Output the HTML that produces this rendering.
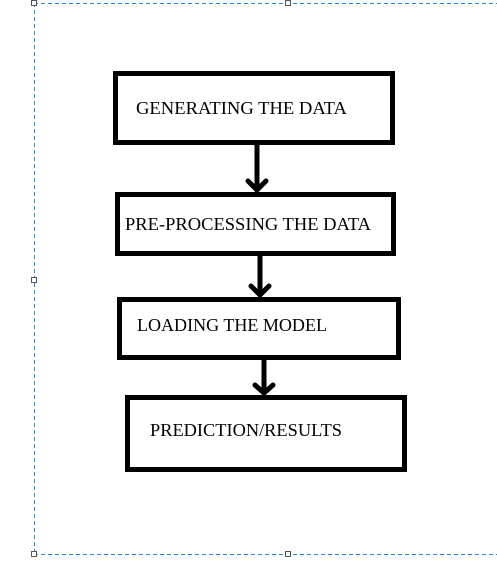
<!DOCTYPE html><html><head><style>body{margin:0;background:#fff}svg{display:block}text{font-family:"Liberation Serif",serif;font-size:18px;fill:#000}</style></head><body>
<svg width="497" height="563" viewBox="0 0 497 563">
<g stroke="#1e88e5" stroke-width="1" stroke-dasharray="4,3" fill="none">
<line x1="34" y1="3.5" x2="497" y2="3.5"/><line x1="34.5" y1="3" x2="34.5" y2="555"/><line x1="34" y1="554.5" x2="497" y2="554.5"/></g>
<g fill="#fff" stroke="#555" stroke-width="1"><rect x="31.5" y="0.5" width="5" height="5"/><rect x="285.5" y="0.5" width="5" height="5"/><rect x="31.5" y="277.5" width="5" height="5"/><rect x="31.5" y="551.5" width="5" height="5"/><rect x="285.5" y="551.5" width="5" height="5"/></g>
<g fill="none" stroke="#000" stroke-width="5">
<rect x="115.5" y="73.5" width="277" height="69"/>
<rect x="117.5" y="194.5" width="276" height="59"/>
<rect x="119.5" y="299.5" width="279" height="58"/>
<rect x="127.5" y="397.5" width="277" height="72"/>
</g>
<g fill="none" stroke="#000" stroke-width="5" stroke-linecap="round">
<line x1="257" y1="145" x2="257" y2="190"/><polyline points="248,181 257,190 266,181"/>
<line x1="260" y1="256" x2="260" y2="295"/><polyline points="251,286 260,295 269,286"/>
<line x1="264" y1="360" x2="264" y2="393"/><polyline points="255,385 264,393 273,385"/>
</g>
<text x="136" y="114" textLength="211" lengthAdjust="spacingAndGlyphs">GENERATING THE DATA</text>
<text x="125" y="230" textLength="246" lengthAdjust="spacingAndGlyphs">PRE-PROCESSING THE DATA</text>
<text x="137" y="331" textLength="190" lengthAdjust="spacingAndGlyphs">LOADING THE MODEL</text>
<text x="150" y="436" textLength="192" lengthAdjust="spacingAndGlyphs">PREDICTION/RESULTS</text>
</svg></body></html>
